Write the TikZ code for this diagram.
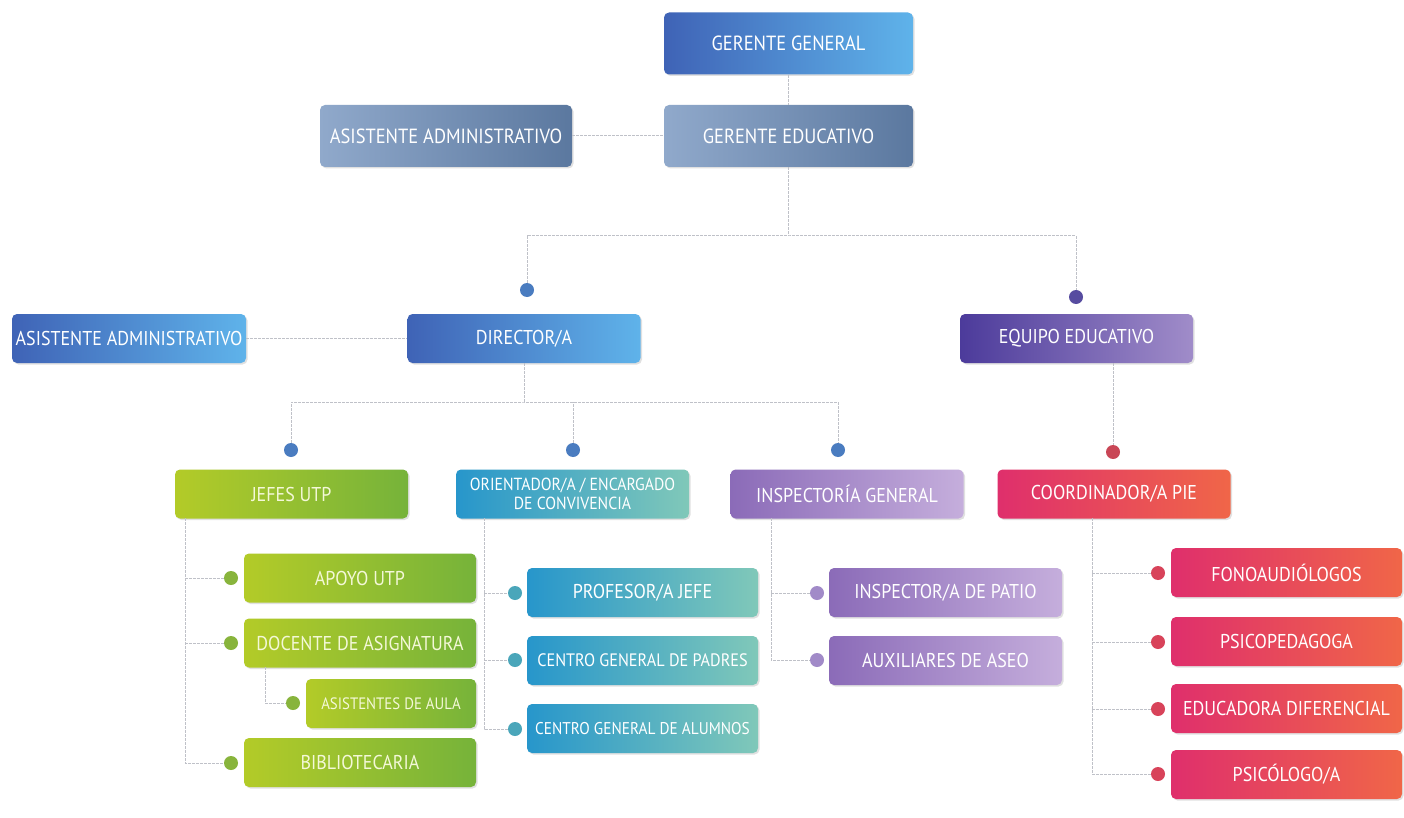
\documentclass[tikz,border=0pt]{standalone}
\usepackage{fontspec}
\setmainfont{PT Sans}[FakeStretch=0.9]
\usetikzlibrary{shadows}
\definecolor{lineg}{HTML}{BFC1C8}
\tikzset{
  x=1pt,y=-1pt,
  box/.style={rounded corners=5pt, inner sep=0pt, text=white, align=center,
    font=\fontsize{20}{21}\selectfont,
    general shadow={fill=black, opacity=0.12, shadow xshift=1.5pt, shadow yshift=-1.5pt}},
  bigbox/.style={box, minimum width=249pt, minimum height=62pt, font=\fontsize{20.5}{22}\selectfont},
  midbox/.style={box, minimum width=233pt, minimum height=49pt},
  subbox/.style={box, minimum width=232pt, minimum height=49pt},
  dot/.style={circle, inner sep=0pt, minimum size=14pt, draw=none},
  conn/.style={draw=lineg, line width=1pt, dash pattern=on 3pt off 1pt},
  gblue/.style={left color=blue1L, right color=blue1R},
  ggrey/.style={left color=grey1L, right color=grey1R},
  gpurp/.style={left color=purpL, right color=purpR},
  ggreen/.style={left color=greenL, right color=greenR, text=greentext},
  gteal/.style={left color=tealL, right color=tealR},
  glav/.style={left color=lavL, right color=lavR},
  gred/.style={left color=redL, right color=redR},
}
\definecolor{blue1L}{HTML}{3F63B6}
\definecolor{blue1R}{HTML}{5FB3EA}
\definecolor{grey1L}{HTML}{90A9CB}
\definecolor{grey1R}{HTML}{5B789F}
\definecolor{purpL}{HTML}{4C3B9B}
\definecolor{purpR}{HTML}{A08CC9}
\definecolor{greenL}{HTML}{B3CB28}
\definecolor{greenR}{HTML}{76B33A}
\definecolor{greentext}{HTML}{F4F8D8}
\definecolor{tealL}{HTML}{2796CB}
\definecolor{tealR}{HTML}{80C8B9}
\definecolor{lavL}{HTML}{8B6BB8}
\definecolor{lavR}{HTML}{C5AEDC}
\definecolor{redL}{HTML}{DF2F6C}
\definecolor{redR}{HTML}{F06648}
\definecolor{dotblue}{HTML}{4A7CC0}
\definecolor{dotpurp}{HTML}{574CA0}
\definecolor{dotred}{HTML}{C94656}
\definecolor{dotgreen}{HTML}{88B43C}
\definecolor{dotteal}{HTML}{4AA6BA}
\definecolor{dotlav}{HTML}{A18AC8}
\definecolor{dotpink}{HTML}{D8435A}
\begin{document}
\begin{tikzpicture}
\useasboundingbox[fill=white] (0,0) rectangle (1404,818);

% level 0/1
\node[bigbox, gblue] (gg) at (788.5,43.5) {GERENTE GENERAL};
\node[bigbox, ggrey] (ge) at (788.5,136) {GERENTE EDUCATIVO};
\node[bigbox, ggrey, minimum width=252pt] (aa1) at (446,136) {ASISTENTE ADMINISTRATIVO};

% level 2
\node[midbox, gblue] (dir) at (524,338.5) {DIRECTOR/A};
\node[midbox, gblue, minimum width=234pt] (aa2) at (129,338.5) {ASISTENTE ADMINISTRATIVO};
\node[midbox, gpurp] (eq) at (1076.5,338.5) {EQUIPO EDUCATIVO};

\node[dot, fill=dotblue] (ddir) at (527,290) {};
\node[dot, fill=dotpurp] (deq) at (1076,297) {};
\coordinate (j1) at (788.5,236);

% level 3
\node[midbox, ggreen] (jefes) at (291.5,494) {JEFES UTP};
\node[midbox, gteal, font=\fontsize{17.5}{19}\selectfont] (ori) at (572.5,494) {ORIENTADOR/A / ENCARGADO\\DE CONVIVENCIA};
\node[midbox, glav] (insp) at (847,494) {INSPECTOR\'IA GENERAL};
\node[midbox, gred] (coord) at (1114,494) {COORDINADOR/A PIE};

\node[dot, fill=dotblue] (djef) at (291,450) {};
\node[dot, fill=dotblue] (dori) at (573,450) {};
\node[dot, fill=dotblue] (dins) at (838,450) {};
\node[dot, fill=dotred] (dcoo) at (1113,452) {};
\coordinate (j2) at (524,402);

% JEFES UTP children
\node[subbox, ggreen] (apoyo) at (360,578) {APOYO UTP};
\node[subbox, ggreen] (doc) at (360,643) {DOCENTE DE ASIGNATURA};
\node[subbox, ggreen, minimum width=170pt, font=\fontsize{16.5}{18}\selectfont] (asis) at (391,703.5) {ASISTENTES DE AULA};
\node[subbox, ggreen] (bib) at (360,762.5) {BIBLIOTECARIA};
\node[dot, fill=dotgreen] (dapo) at (231,578) {};
\node[dot, fill=dotgreen] (ddoc) at (231,643) {};
\node[dot, fill=dotgreen] (dasi) at (293,703) {};
\node[dot, fill=dotgreen] (dbib) at (231,763) {};
\coordinate (v1) at (185,518);
\coordinate (v1b) at (265,667);

% ORIENTADOR children
\node[subbox, gteal, minimum width=231pt] (prof) at (642.5,592.5) {PROFESOR/A JEFE};
\node[subbox, gteal, minimum width=231pt, font=\fontsize{18}{19}\selectfont] (cgp) at (642.5,660.5) {CENTRO GENERAL DE PADRES};
\node[subbox, gteal, minimum width=231pt, font=\fontsize{17}{18}\selectfont] (cga) at (642.5,728.5) {CENTRO GENERAL DE ALUMNOS};
\node[dot, fill=dotteal] (dprof) at (515,593) {};
\node[dot, fill=dotteal] (dcgp) at (515,660) {};
\node[dot, fill=dotteal] (dcga) at (515,729) {};
\coordinate (v2) at (484,518);

% INSPECTORIA children
\node[subbox, glav, minimum width=233pt] (ipat) at (945.5,592.5) {INSPECTOR/A DE PATIO};
\node[subbox, glav, minimum width=233pt] (aux) at (945.5,660.5) {AUXILIARES DE ASEO};
\node[dot, fill=dotlav] (dipat) at (817,593) {};
\node[dot, fill=dotlav] (daux) at (817,660) {};
\coordinate (v3) at (771,518);

% PIE children
\node[subbox, gred, minimum width=231pt] (fono) at (1286.5,572.5) {FONOAUDI\'OLOGOS};
\node[subbox, gred, minimum width=231pt] (psp) at (1286.5,641.5) {PSICOPEDAGOGA};
\node[subbox, gred, minimum width=231pt] (edu) at (1286.5,708.5) {EDUCADORA DIFERENCIAL};
\node[subbox, gred, minimum width=231pt] (psi) at (1286.5,774.5) {PSIC\'OLOGO/A};
\node[dot, fill=dotpink] (dfono) at (1158,573) {};
\node[dot, fill=dotpink] (dpsp) at (1158,642) {};
\node[dot, fill=dotpink] (dedu) at (1158,709) {};
\node[dot, fill=dotpink] (dpsi) at (1158,774) {};
\coordinate (v4) at (1092,518);

% connectors
\draw[conn] (gg.south) -- (ge.north);
\draw[conn] (aa1.east) -- (ge.west);
\draw[conn] (ge.south) -- (j1);
\draw[conn] (ddir.north) |- (j1) -| (deq.north);
\draw[conn] (aa2.east) -- (dir.west);
\draw[conn] (dir.south) -- (j2);
\draw[conn] (djef.north) |- (j2) -| (dins.north);
\draw[conn] (dori.north) -- (dori.north |- j2);
\draw[conn] (eq.south -| dcoo) -- (dcoo.north);

\draw[conn] (v1) |- (dbib.west);
\draw[conn] (v1 |- dapo) -- (dapo.west);
\draw[conn] (v1 |- ddoc) -- (ddoc.west);
\draw[conn] (v1b) |- (dasi.west);

\draw[conn] (v2) |- (dcga.west);
\draw[conn] (v2 |- dprof) -- (dprof.west);
\draw[conn] (v2 |- dcgp) -- (dcgp.west);

\draw[conn] (v3) |- (daux.west);
\draw[conn] (v3 |- dipat) -- (dipat.west);

\draw[conn] (v4) |- (dpsi.west);
\draw[conn] (v4 |- dfono) -- (dfono.west);
\draw[conn] (v4 |- dpsp) -- (dpsp.west);
\draw[conn] (v4 |- dedu) -- (dedu.west);
\end{tikzpicture}
\end{document}
